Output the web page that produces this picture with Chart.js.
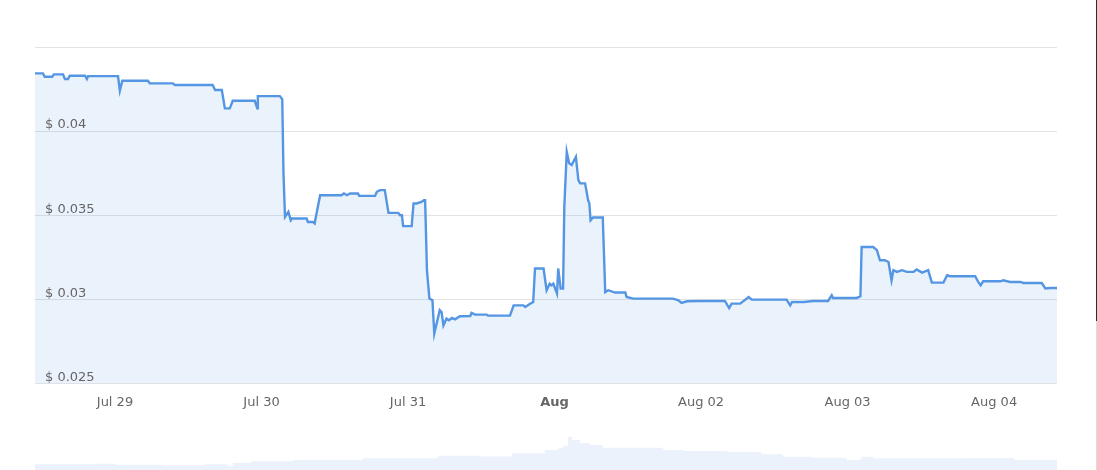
<!DOCTYPE html>
<html>
<head>
<meta charset="utf-8">
<script src="https://cdn.jsdelivr.net/npm/chart.js@4.4.1/dist/chart.umd.min.js"></script>
<style>
  body { margin: 0; background: #fff; overflow: hidden; width: 1097px; height: 470px; position: relative; }
  #priceChart { position: absolute; left: 0; top: 0; }
  #navChart { position: absolute; left: 0; top: 425px; }
  .edge { position: absolute; left: 1096px; width: 1px; }
</style>
</head>
<body>
<canvas id="navChart" width="1097" height="60"></canvas>
<canvas id="priceChart" width="1097" height="430"></canvas>
<div class="edge" style="top:0;height:321px;background:#2b2b2b"></div>
<div class="edge" style="top:321px;height:149px;background:#dcdcdc"></div>
<script>
// hours counted from Jul 28 00:00
var hours = [10.9,12.2,12.5,13.7,14.0,15.5,15.8,16.3,16.6,19.1,19.4,19.6,24.5,24.8,25.2,29.4,29.7,33.5,33.8,40.0,
  40.4,41.5,42.0,42.8,43.3,46.9,47.3,47.4,51.0,51.4,51.6,51.85,52.4,52.8,53.0,55.4,55.6,56.4,56.7,57.6,
  61.1,61.5,62.0,62.5,63.8,64.0,66.6,66.9,67.4,68.2,68.8,70.4,70.7,71.0,71.2,72.6,72.9,73.4,74.2,74.6,
  74.8,75.1,75.5,76.0,76.3,77.2,77.5,77.8,78.3,78.7,79.2,79.7,80.5,82.2,82.4,83.0,84.9,85.1,88.7,89.3,
  90.9,91.2,92.0,92.5,92.8,94.2,94.7,95.2,95.5,95.8,96.4,96.6,97.0,97.4,97.6,98.0,98.4,98.8,99.5,99.9,
  100.2,101.0,101.5,101.7,101.9,102.3,103.9,104.3,104.8,105.9,107.6,107.8,108.9,115.4,116.3,116.8,117.7,119.8,123.9,124.6,
  125.0,126.4,127.8,128.3,134.0,134.6,134.9,136.8,138.4,140.8,141.4,141.6,145.5,146.1,146.3,148.2,148.8,149.3,150.1,150.7,
  151.2,151.5,152.1,152.9,153.7,154.8,155.3,156.2,157.2,157.8,159.7,160.3,160.8,164.9,165.4,165.8,166.2,169.0,169.5,170.6,
  172.3,172.8,175.8,176.4,177.2,178.3];
var prices = [0.04343,0.04343,0.04323,0.04323,0.04337,0.04337,0.04310,0.04310,0.04329,0.04329,0.04310,0.04327,0.04327,0.04240,0.04299,0.04299,0.04284,0.04284,0.04274,0.04274,
  0.04244,0.04244,0.04135,0.04135,0.04180,0.04180,0.04135,0.04208,0.04208,0.04190,0.03750,0.03490,0.03520,0.03470,0.03480,0.03480,0.03460,0.03460,0.03451,0.03619,
  0.03619,0.03629,0.03619,0.03629,0.03629,0.03615,0.03615,0.03639,0.03649,0.03649,0.03514,0.03514,0.03500,0.03500,0.03435,0.03435,0.03570,0.03570,0.03579,0.03589,
  0.03589,0.03173,0.03004,0.02994,0.02796,0.02935,0.02924,0.02845,0.02885,0.02875,0.02889,0.02881,0.02899,0.02901,0.02919,0.02909,0.02909,0.02903,0.02903,0.02964,
  0.02964,0.02954,0.02974,0.02984,0.03183,0.03183,0.03054,0.03093,0.03083,0.03093,0.03034,0.03183,0.03064,0.03064,0.03549,0.03877,0.03808,0.03798,0.03847,0.03708,
  0.03689,0.03689,0.03589,0.03570,0.03470,0.03486,0.03486,0.03043,0.03054,0.03040,0.03040,0.03014,0.03004,0.03004,0.02994,0.02978,0.02988,0.02990,0.02990,0.02948,
  0.02974,0.02974,0.03014,0.02998,0.02998,0.02964,0.02984,0.02984,0.02990,0.02990,0.03024,0.03008,0.03008,0.03018,0.03311,0.03311,0.03292,0.03232,0.03232,0.03222,
  0.03113,0.03173,0.03163,0.03173,0.03163,0.03163,0.03177,0.03159,0.03173,0.03099,0.03099,0.03143,0.03137,0.03137,0.03103,0.03083,0.03107,0.03107,0.03113,0.03103,
  0.03103,0.03097,0.03097,0.03064,0.03067,0.03067];

// navigator strip at the bottom
var navHours = [10.9,20.4,24.2,31.9,38.7,42.5,43.3,46.3,53.2,64.6,76.9,83.8,89.0,94.4,96.6,97.4,98.2,98.9,100.2,101.8,
  103.9,107.4,113.8,117.2,124.3,129.8,133.4,138.3,143.9,146.2,148.2,155.9,163.6,165.7,171.3,178.3];
var navValues = [20.7,21.3,20.3,19.7,20.7,19.0,22.3,23.7,25.0,26.7,29.3,28.5,31.7,35.0,36.7,39.3,48.3,45.0,41.7,40.0,
  37.3,37.3,35.0,34.0,33.0,30.7,28.3,27.3,25.0,28.3,26.7,26.7,27.0,27.0,25.0,25.0];

var tickHours = [24, 48, 72, 96, 120, 144, 168];
var tickLabels = ["Jul 29", "Jul 30", "Jul 31", "Aug", "Aug 02", "Aug 03", "Aug 04"];
var yTicks = [0.025, 0.03, 0.035, 0.04, 0.045];
var yLabels = ["$ 0.025", "$ 0.03", "$ 0.035", "$ 0.04", ""];

var fontFamily = "'DejaVu Sans', Verdana, sans-serif";

function toPoints(xs, ys){
  var pts = [];
  for (var i = 0; i < xs.length; i++) {
    pts.push({x: xs[i], y: ys[i]});
  }
  return pts;
}

var priceChart = new Chart(document.getElementById("priceChart").getContext("2d"), {
  type: "line",
  data: {
    datasets: [{
      data: toPoints(hours, prices),
      borderColor: "#5496e3",
      borderWidth: 2.4,
      backgroundColor: "rgba(84,150,227,0.12)",
      fill: "start",
      pointRadius: 0,
      tension: 0
    }]
  },
  options: {
    responsive: false,
    animation: false,
    // the mirrored y axis still eats 2 x tick padding, so left padding is 35 - 20
    layout: { padding: { left: 15, right: 40, top: 47, bottom: 9 } },
    plugins: { legend: { display: false }, tooltip: { enabled: false } },
    scales: {
      x: {
        type: "linear",
        min: 10.9,
        max: 178.3,
        grid: { display: false, drawTicks: false },
        border: { display: false },
        afterBuildTicks: function(axis){
          axis.ticks = tickHours.map(function(h){ return {value: h}; });
        },
        ticks: {
          padding: 11,
          color: "#666",
          maxRotation: 0,
          autoSkip: false,
          callback: function(value){ return tickLabels[tickHours.indexOf(value)]; },
          font: function(ctx){
            var bold = ctx.tick && ctx.tick.value === 96;
            return { family: fontFamily, size: 13, weight: bold ? "bold" : "normal" };
          }
        }
      },
      y: {
        min: 0.025,
        max: 0.045,
        grid: { color: "#e3e3e3", drawTicks: false },
        border: { display: false },
        afterBuildTicks: function(axis){
          axis.ticks = yTicks.map(function(v){ return {value: v}; });
        },
        ticks: {
          mirror: true,
          z: 1,
          padding: 10,
          labelOffset: -6,
          color: "#666",
          font: { family: fontFamily, size: 13 },
          callback: function(value){ return yLabels[yTicks.indexOf(value)]; }
        }
      }
    }
  }
});

var navChart = new Chart(document.getElementById("navChart").getContext("2d"), {
  type: "line",
  data: {
    datasets: [{
      data: toPoints(navHours, navValues),
      borderWidth: 0,
      borderColor: "rgba(0,0,0,0)",
      backgroundColor: "#ebf2fc",
      fill: "start",
      stepped: true,
      pointRadius: 0
    }]
  },
  options: {
    responsive: false,
    animation: false,
    layout: { padding: { left: 35, right: 40, top: 0, bottom: 0 } },
    plugins: { legend: { display: false }, tooltip: { enabled: false } },
    scales: {
      x: { type: "linear", min: 10.9, max: 178.3, display: false },
      y: { min: 0, max: 60, display: false }
    }
  }
});
</script>
</body>
</html>
